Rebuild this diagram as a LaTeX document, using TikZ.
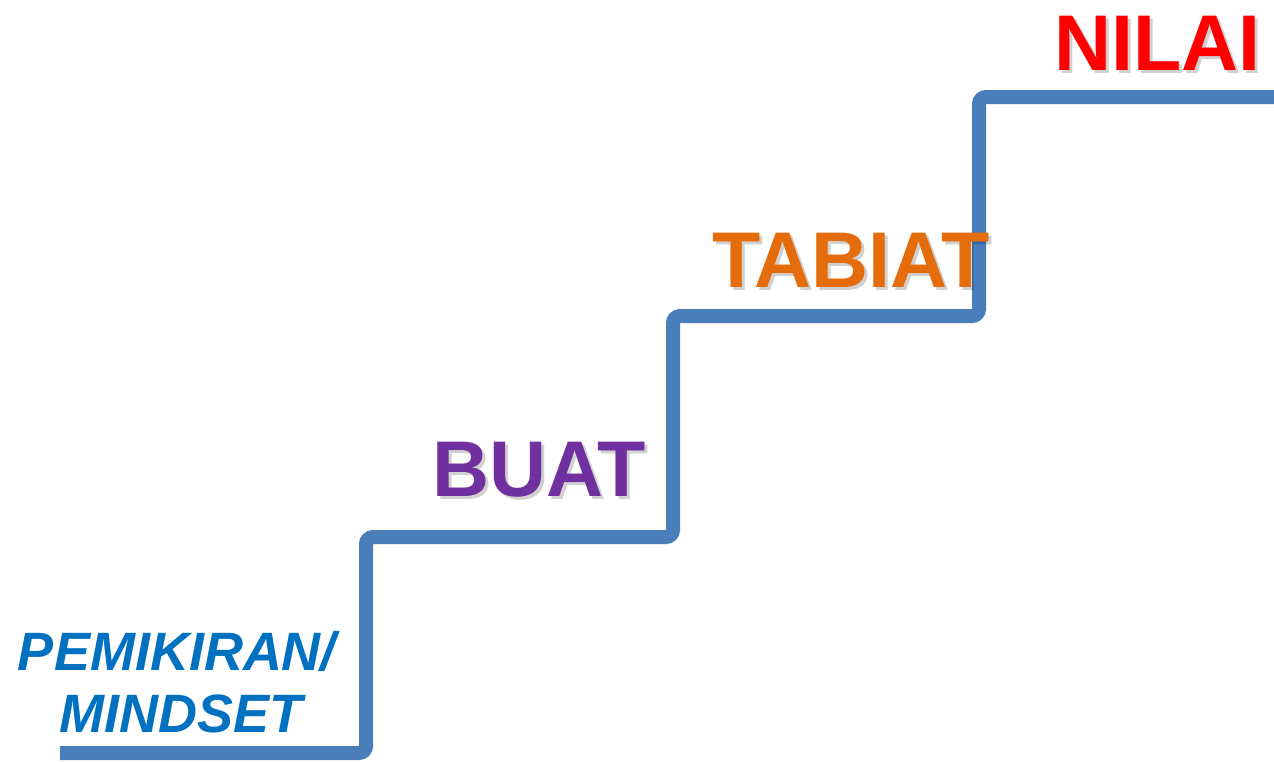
\documentclass[tikz,border=0pt]{standalone}
\usepackage{fontspec}
\setmainfont{Liberation Sans}
\begin{document}
\begin{tikzpicture}[x=1pt,y=-1pt,
  stair/.style={draw=stairblue,line width=14pt,rounded corners=7pt,line cap=butt},
  word/.style={inner sep=0pt,anchor=base,font=\fontsize{79}{88}\selectfont\bfseries},
  mind/.style={inner sep=0pt,anchor=base,font=\fontsize{54}{62}\selectfont\bfseries\itshape,text=mindblue},
  shade/.style={text=black,opacity=0.18}]
  \definecolor{stairblue}{HTML}{4A7EBB}
  \definecolor{nilaired}{HTML}{FF0000}
  \definecolor{tabiatorange}{HTML}{E46C0A}
  \definecolor{buatpurple}{HTML}{7030A0}
  \definecolor{mindblue}{HTML}{0070C0}
  \useasboundingbox[fill=white] (0,0) rectangle (1274,761);

  % staircase
  \coordinate (s0) at (60,753);
  \coordinate (s1) at (366,753);
  \coordinate (s2) at (366,537);
  \coordinate (s3) at (673,537);
  \coordinate (s4) at (673,316);
  \coordinate (s5) at (979,316);
  \coordinate (s6) at (979,97);
  \coordinate (s7) at (1274,97);
  \draw[stair] (s0) -- (s1) -- (s2) -- (s3) -- (s4) -- (s5) -- (s6) -- (s7);

  % step labels with a soft drop shadow
  \node[word,shade] (nilaishadow) at (1160.5,73) {NILAI};
  \node[word,shade] (tabiatshadow) at (854,290) {TABIAT};
  \node[word,shade] (buatshadow) at (542,499) {BUAT};
  \node[word,text=nilaired] (nilai) at (1157.5,70) {NILAI};
  \node[word,text=tabiatorange] (tabiat) at (851,287) {TABIAT};
  \node[word,text=buatpurple] (buat) at (539,496) {BUAT};

  \node[mind] (pemikiran) at (177,670) {PEMIKIRAN/};
  \node[mind] (mindset) at (181,732) {MINDSET};
\end{tikzpicture}
\end{document}
